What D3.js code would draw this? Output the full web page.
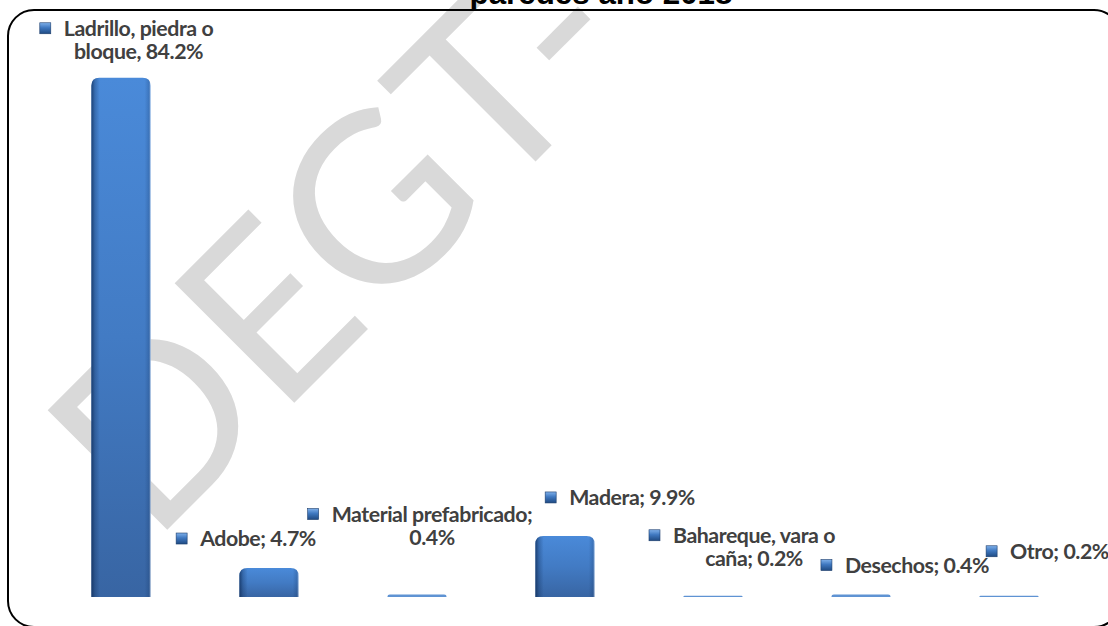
<!DOCTYPE html>
<html><head><meta charset="utf-8">
<script src="https://cdn.jsdelivr.net/npm/d3@7"></script>
<style>
html,body{margin:0;padding:0;background:#fff;overflow:hidden;}
svg{display:block;}
</style></head>
<body>
<svg id="chart" width="1108" height="626"></svg>
<script>
// ---- data ----
const categories = ["Ladrillo, piedra o bloque", "Adobe", "Material prefabricado", "Madera", "Bahareque, vara o caña", "Desechos", "Otro"];
const values = [84.2, 4.7, 0.4, 9.9, 0.2, 0.4, 0.2];
const labelLines = [
  ["Ladrillo, piedra o", "bloque, 84.2%"],
  ["Adobe; 4.7%"],
  ["Material prefabricado;", "0.4%"],
  ["Madera; 9.9%"],
  ["Bahareque, vara o", "caña; 0.2%"],
  ["Desechos; 0.4%"],
  ["Otro; 0.2%"]
];
const titleText = "paredes año 2018";
const watermarkText = "DEGT-";

// ---- layout (label offsets relative to bar centre / bar top) ----
const labelOffsets = [[17.5,-42],[-11,-22],[15,-73],[67,-31],[41,-53],[56,-22],[50.5,-37]];

const svg = d3.select("#chart");
const W = 1108, H = 626;
const defs = svg.append("defs");

const g1 = defs.append("linearGradient").attr("id","barGrad").attr("x1",0).attr("y1",0).attr("x2",0).attr("y2",1);
g1.append("stop").attr("offset","0%").attr("stop-color","#4a8ad9");
g1.append("stop").attr("offset","50%").attr("stop-color","#427bc4");
g1.append("stop").attr("offset","100%").attr("stop-color","#3865a3");
const g2 = defs.append("linearGradient").attr("id","edgeGrad").attr("x1",0).attr("y1",0).attr("x2",1).attr("y2",0);
g2.append("stop").attr("offset","0%").attr("stop-color","#0d2a55").attr("stop-opacity",0.75);
g2.append("stop").attr("offset","6%").attr("stop-color","#0d2a55").attr("stop-opacity",0.3);
g2.append("stop").attr("offset","14%").attr("stop-color","#0d2a55").attr("stop-opacity",0);
g2.append("stop").attr("offset","90%").attr("stop-color","#0d2a55").attr("stop-opacity",0);
g2.append("stop").attr("offset","97%").attr("stop-color","#0d2a55").attr("stop-opacity",0.2);
g2.append("stop").attr("offset","100%").attr("stop-color","#ffffff").attr("stop-opacity",0.5);
const g3 = defs.append("linearGradient").attr("id","mkGrad").attr("x1",0).attr("y1",0).attr("x2",0).attr("y2",1);
g3.append("stop").attr("offset","0%").attr("stop-color","#7fb0ea");
g3.append("stop").attr("offset","45%").attr("stop-color","#3f78c0");
g3.append("stop").attr("offset","100%").attr("stop-color","#1f4a82");

const root = svg.append("g");

// ---- watermark ----
const wm = root.append("text")
  .attr("font-family","Lato, 'Open Sans', sans-serif")
  .attr("font-size",236)
  .attr("fill","#d9d9d9")
  .text(watermarkText);
let advD = 150;
try { advD = wm.node().getStartPositionOfChar(1).x; } catch(e) {}
const c45 = Math.SQRT1_2;
const eStart = [279, 418];
const ox = eStart[0] - advD*c45, oy = eStart[1] + advD*c45;
wm.attr("transform", `translate(${ox},${oy}) rotate(-45)`);

// ---- frame ----
root.append("rect").attr("x",8).attr("y",10).attr("width",1112).attr("height",617)
  .attr("rx",26).attr("ry",26).attr("fill","none").attr("stroke","#000").attr("stroke-width",2);

// ---- title: drawn with its bottom edge just above the frame line ----
const title = root.append("text").attr("x",601).attr("y",4).attr("text-anchor","middle")
  .attr("font-family","'Liberation Sans', Arial, sans-serif").attr("font-weight","bold")
  .attr("font-size",24).attr("fill","#000").text(titleText);
const tw = title.node().getComputedTextLength();
title.attr("font-size", 24*263/tw);

// ---- scales ----
const x = d3.scaleBand().domain(categories).range([47, 1083]).paddingInner(0.6).paddingOuter(0.3);
const y = d3.scaleLinear().domain([0, 90]).range([597, 42]);

function barPath(d, i){
  const x0 = x(categories[i]), w = x.bandwidth();
  const y0 = y(d), h = y(0) - y0;
  const r = Math.min(8, h, w/2);
  return `M${x0},${y0+h} L${x0},${y0+r} Q${x0},${y0} ${x0+r},${y0} L${x0+w-r},${y0} Q${x0+w},${y0} ${x0+w},${y0+r} L${x0+w},${y0+h} Z`;
}
const bars = root.append("g");
bars.selectAll("path.bar").data(values).join("path").attr("class","bar")
  .attr("d", barPath)
  .attr("fill", d => y(0)-y(d) < 4 ? "#5f93d3" : "url(#barGrad)");
bars.selectAll("path.edge").data(values).join("path").attr("class","edge")
  .attr("d", barPath).attr("fill","url(#edgeGrad)")
  .attr("opacity", d => y(0)-y(d) < 4 ? 0 : 1);

// ---- labels ----
const fontFam = "Lato, 'Open Sans', sans-serif";
const ls = -0.45;
const probe = root.append("text").attr("font-family",fontFam).attr("font-weight","bold")
  .attr("font-size",18).attr("letter-spacing",ls).text("Material prefabricado;");
const fs = 18*199/probe.node().getComputedTextLength();
probe.remove();

const labels = root.append("g");
values.forEach((v,i) => {
  const cx = x(categories[i]) + x.bandwidth()/2 + labelOffsets[i][0];
  const by = y(v) + labelOffsets[i][1];
  const g = labels.append("g");
  const t = g.append("text").attr("font-family",fontFam).attr("font-weight","bold")
    .attr("font-size",fs).attr("letter-spacing",ls).attr("fill","#404040").attr("text-anchor","middle");
  labelLines[i].forEach((ln,j) => {
    t.append("tspan").attr("x",cx).attr("y",by + j*23.5).text(ln);
  });
  const w1 = t.select("tspan").node().getComputedTextLength();
  const left = cx - w1/2;
  g.append("rect").attr("x", left - 13 - 11).attr("y", by - 13).attr("width",11).attr("height",11)
    .attr("fill","url(#mkGrad)").attr("stroke","#1c3d6b").attr("stroke-width",0.6);
});
</script>
</body></html>
